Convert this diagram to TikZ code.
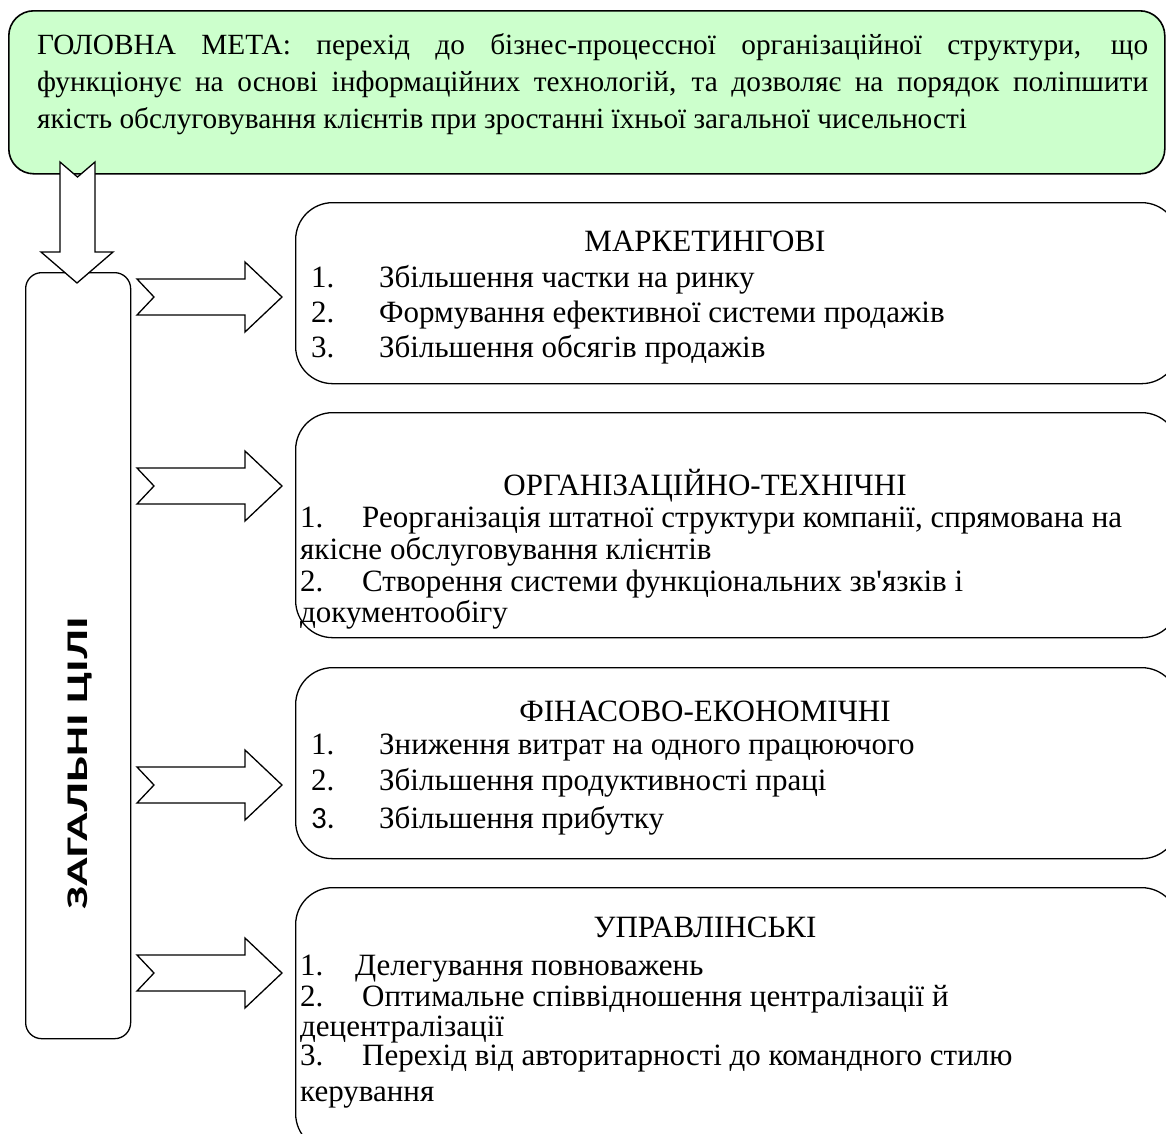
\documentclass[tikz,border=0pt]{standalone}
\usepackage{fontspec}
\usepackage{graphicx}
\setmainfont{Liberation Serif}[Ligatures=TeXOff]
\newfontfamily\carlito{Carlito}
\usetikzlibrary{positioning}
\definecolor{goalgreen}{RGB}{204,255,204}
\tikzset{
  x=1pt, y=-1pt,
  goalbox/.style={rectangle, draw=black, line width=1.6pt, fill=goalgreen, rounded corners=25pt, anchor=north west},
  groupbox/.style={rectangle, draw=black, line width=1.3pt, rounded corners=37pt, anchor=north west},
  sidebox/.style={rectangle, draw=black, line width=1.3pt, rounded corners=16pt, anchor=north west},
  blockarrow/.style={draw=black, line width=1.3pt, fill=white, line join=miter},
  headtext/.style={anchor=base, inner sep=0pt, font=\fontsize{31}{34}\selectfont},
  itemtext/.style={anchor=base west, inner sep=0pt, font=\fontsize{31}{34}\selectfont},
  rarrow/.pic={
    \path[blockarrow] (0,-18) -- (108,-18) -- (108,-35) -- (145,0) -- (108,35)
      -- (108,18) -- (0,18) -- (17,0) -- cycle;
  }
}

\begin{document}
\begin{tikzpicture}
  \useasboundingbox (0,0) rectangle (1166,1133);
  \clip (0,0) rectangle (1166,1133);

  % Main goal
  \node[goalbox, minimum width=1156pt, minimum height=163pt] (mainbox) at (8,10) {};
  \node[anchor=base west, text width=1111pt, align=justify, inner sep=0pt,
        font=\fontsize{29.3}{37}\selectfont] (maintext) at (37,54)
    {\hyphenpenalty=10000
     ГОЛОВНА МЕТА: перехід до бізнес-процессної організаційної структури, що\linebreak
     функціонує на основі інформаційних технологій, та дозволяє на порядок поліпшити\linebreak
     якість обслуговування клієнтів при зростанні їхньої загальної чисельності};

  % General goals column
  \node[sidebox, minimum width=105pt, minimum height=766pt] (goals) at (25,272) {};
  \node[rotate=90, inner sep=0pt, font=\carlito\bfseries\fontsize{30}{32}\selectfont] (goalslabel) at (80,763)
    {\resizebox{292pt}{\height}{ЗАГАЛЬНІ ЦІЛІ}};

  % Group boxes
  \node[groupbox, minimum width=883pt, minimum height=181pt] (mkt) at (295,202) {};
  \node[groupbox, minimum width=883pt, minimum height=225pt] (org) at (295,412) {};
  \node[groupbox, minimum width=883pt, minimum height=191pt] (fin) at (295,667) {};
  \node[groupbox, minimum width=883pt, minimum height=263pt] (mgmt) at (295,887) {};

  % Marketing
  \node[headtext] (mkthead) at (705,251) {МАРКЕТИНГОВІ};
  \node[itemtext] (mkt1) at (311,287) {\makebox[68pt][l]{1.}Збільшення частки на ринку};
  \node[itemtext] (mkt2) at (311,322) {\makebox[68pt][l]{2.}Формування ефективної системи продажів};
  \node[itemtext] (mkt3) at (311,357) {\makebox[68pt][l]{3.}Збільшення обсягів продажів};

  % Organisational
  \node[headtext] (orghead) at (705,495) {ОРГАНІЗАЦІЙНО-ТЕХНІЧНІ};
  \node[itemtext] (org1) at (300,527) {\makebox[62pt][l]{1.}Реорганізація штатної структури компанії, спрямована на};
  \node[itemtext] (org1b) at (300,559) {якісне обслуговування клієнтів};
  \node[itemtext] (org2) at (300,591) {\makebox[62pt][l]{2.}Створення системи функціональних зв'язків і};
  \node[itemtext] (org2b) at (300,622) {документообігу};

  % Financial
  \node[headtext] (finhead) at (705,721) {ФІНАСОВО-ЕКОНОМІЧНІ};
  \node[itemtext] (fin1) at (311,754) {\makebox[68pt][l]{1.}Зниження витрат на одного працюючого};
  \node[itemtext] (fin2) at (311,790) {\makebox[68pt][l]{2.}Збільшення продуктивності праці};
  \node[itemtext] (fin3) at (311,828) {\makebox[68pt][l]{\carlito 3.}Збільшення прибутку};

  % Management
  \node[headtext] (mgmthead) at (705,937) {УПРАВЛІНСЬКІ};
  \node[itemtext] (mgmt1) at (300,975) {\makebox[55pt][l]{1.}Делегування повноважень};
  \node[itemtext] (mgmt2) at (300,1006) {\makebox[62pt][l]{2.}Оптимальне співвідношення централізації й};
  \node[itemtext] (mgmt2b) at (300,1036) {децентралізації};
  \node[itemtext] (mgmt3) at (300,1065) {\makebox[62pt][l]{3.}Перехід від авторитарності до командного стилю};
  \node[itemtext] (mgmt3b) at (300,1101) {керування};

  % Arrows
  \path[blockarrow] (60,162) -- (77.5,177) -- (95,162) -- (95,252) -- (113,252)
    -- (77,283) -- (41,252) -- (60,252) -- cycle;
  \foreach \y in {297,486,785,973}
    \pic at (137,\y) {rarrow};

\end{tikzpicture}
\end{document}
